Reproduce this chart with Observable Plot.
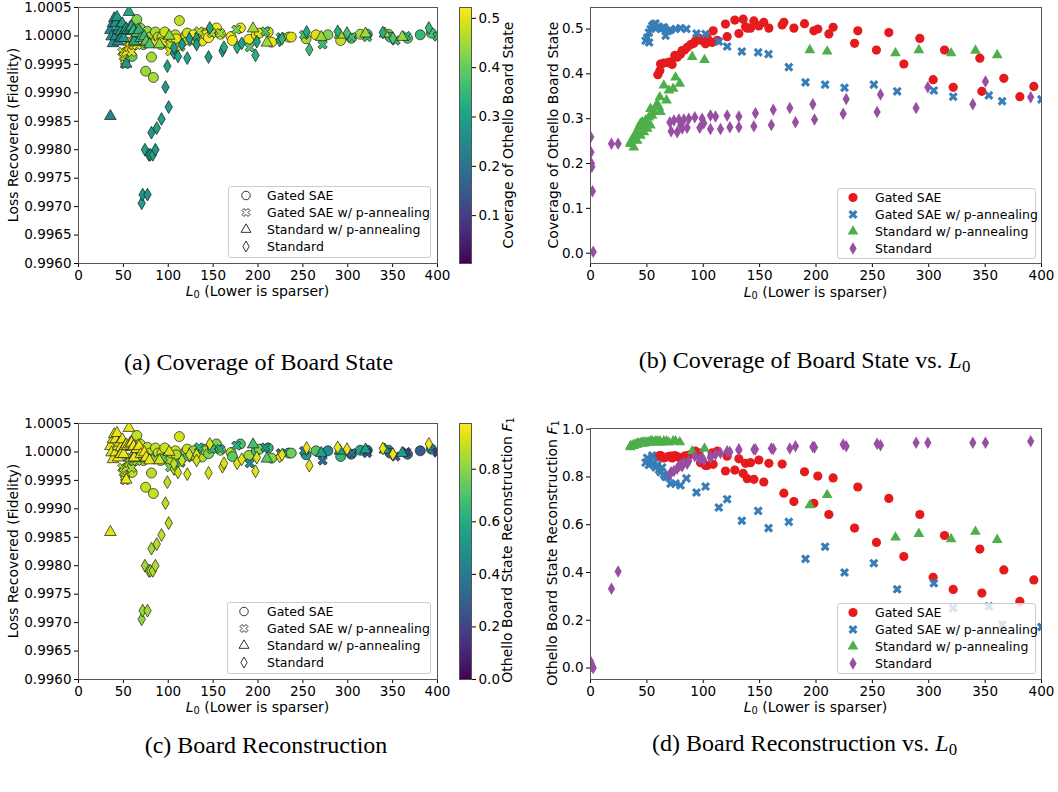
<!DOCTYPE html>
<html><head><meta charset="utf-8">
<script src="https://cdn.jsdelivr.net/npm/d3@7"></script>
<script src="https://cdn.jsdelivr.net/npm/@observablehq/plot@0.6"></script>
<style>
body{margin:0;background:#fff;}
#root{position:relative;width:1058px;height:792px;overflow:hidden;font-family:"DejaVu Sans";color:#000;}
.abs{position:absolute;}
.txt{position:absolute;white-space:nowrap;line-height:1;}
.legend{position:absolute;border:1px solid #ccc;border-radius:3px;background:rgba(255,255,255,0.8);box-sizing:border-box;}
</style></head>
<body><div id="root"></div>
<script>
// ---------------- DATA ----------------
const seriesNames = ["Gated SAE", "Gated SAE w/ p-annealing", "Standard w/ p-annealing", "Standard"];
const seriesColors = ["#e41a1c", "#377eb8", "#4daf4a", "#984ea3"];

// Gated SAE
const gatedL0 = [59.7,61.5,62.1,65,68.6,71,72.4,74.8,76.9,79.8,81.3,83.4,85.7,88.7,91.6,93.1,96.1,97.6,102,103.5,107.9,108.8,112.4,119.7,121.2,128,131.6,135.4,137.5,139,141.9,144.9,149.3,153.7,158.2,170,171.5,180.4,189.8,198.1,201.6,211.4,215.2,234.2,237.1,253.6,264.6,277.9,292.1,303.9,314,321.7,345.3,347.1,366.6,380.8,393.2];
const gatedCov = [0.398,0.407,0.422,0.424,0.425,0.427,0.421,0.441,0.437,0.444,0.452,0.453,0.459,0.465,0.468,0.474,0.480,0.475,0.467,0.481,0.470,0.496,0.475,0.511,0.483,0.520,0.490,0.522,0.505,0.502,0.502,0.518,0.507,0.515,0.502,0.509,0.515,0.502,0.512,0.496,0.500,0.489,0.504,0.468,0.496,0.453,0.492,0.422,0.479,0.387,0.453,0.370,0.435,0.361,0.390,0.349,0.372];
const gatedF1 = [0.885,0.89,0.89,0.88,0.885,0.887,0.88,0.89,0.885,0.88,0.875,0.887,0.89,0.894,0.90,0.908,0.901,0.86,0.848,0.848,0.901,0.853,0.908,0.825,0.887,0.829,0.876,0.815,0.857,0.793,0.860,0.790,0.871,0.779,0.857,0.854,0.732,0.697,0.822,0.690,0.804,0.643,0.796,0.586,0.758,0.526,0.710,0.467,0.643,0.380,0.555,0.329,0.498,0.314,0.411,0.279,0.369];
const gatedFid = [0.99964,1.00021,0.99993,1.00029,1.00014,0.99990,0.99985,0.99938,1.00008,0.99998,0.99963,0.99927,1.00007,0.99998,0.99985,0.99998,1.00007,0.99990,0.99985,0.99998,1.00002,0.99995,1.00027,1.00001,1.00005,1.00002,0.99990,0.99995,0.99991,1.00005,1.00002,0.99997,1.00008,1.00014,1.00003,0.99999,0.99992,1.00014,0.99994,1.00002,1.00005,1.00007,0.99989,0.99998,0.99998,0.99995,1.00002,1.00002,0.99992,0.99996,1.00003,1.00003,1.00003,0.99998,0.99996,1.00002,1.00005];

// Gated SAE w/ p-annealing
const gatedPL0 = [48.9,50.3,51.8,53.3,54.8,56.3,57.7,59.2,60.7,62.2,63.6,65.1,66.6,52.0,68.6,71,75.4,79.8,85.1,94,102,113.8,121.2,134.2,148.7,157.9,175.9,190.7,208.1,225.3,251.3,272,304.5,321.7,353.3,365.1,400];
const gatedPCov = [0.474,0.481,0.492,0.500,0.507,0.511,0.512,0.504,0.505,0.500,0.502,0.504,0.485,0.470,0.495,0.498,0.500,0.502,0.500,0.490,0.489,0.472,0.461,0.450,0.448,0.444,0.415,0.381,0.376,0.369,0.376,0.361,0.363,0.349,0.352,0.339,0.343];
const gatedPF1 = [0.86,0.88,0.85,0.87,0.89,0.86,0.84,0.85,0.83,0.82,0.84,0.81,0.80,0.87,0.80,0.772,0.773,0.765,0.794,0.735,0.760,0.672,0.707,0.617,0.658,0.586,0.612,0.457,0.508,0.400,0.439,0.330,0.355,0.251,0.259,0.182,0.172];
const gatedPFid = [0.99972,0.99964,0.99955,0.99972,0.99981,0.99981,0.99990,0.99972,0.99984,0.99984,0.99990,0.99984,0.99990,0.99950,0.99990,0.99993,0.99990,0.99990,0.99987,0.99990,0.99973,0.99981,0.99990,1.00008,1.00005,1.00005,1.00011,0.99980,1.00008,0.99998,1.00002,0.99985,0.99998,0.99998,0.99992,1.00000,0.99999];

// Standard w/ p-annealing
const stdPL0 = [35.5,35.5,36.9,38.4,38.4,39.9,41.4,41.4,42.9,44.3,44.3,45.8,47.3,47.3,48.8,50.3,51.7,53.2,53.2,54.7,56.2,57.7,59.1,60.6,61.5,62.1,65.0,67.4,69.5,73.3,75.4,79.2,90.2,101.1,194.5,209.9,270.5,291.2,319.8,341.4,360.7];
const stdPCov = [0.244,0.247,0.252,0.259,0.236,0.266,0.270,0.251,0.281,0.289,0.262,0.292,0.285,0.270,0.296,0.278,0.303,0.285,0.322,0.307,0.315,0.326,0.333,0.326,0.348,0.315,0.374,0.341,0.363,0.367,0.392,0.378,0.438,0.431,0.453,0.450,0.446,0.453,0.446,0.452,0.442];
const stdPF1 = [0.925,0.93,0.93,0.935,0.93,0.935,0.94,0.935,0.94,0.94,0.94,0.945,0.94,0.945,0.945,0.945,0.945,0.95,0.945,0.95,0.945,0.95,0.95,0.945,0.95,0.945,0.95,0.95,0.945,0.95,0.95,0.946,0.908,0.919,0.682,0.725,0.547,0.562,0.540,0.571,0.537];
const stdPFid = [0.99859,1.00010,0.99999,0.99987,1.00022,1.00031,1.00022,0.99999,1.00033,1.00010,0.99990,1.00016,1.00008,0.99996,1.00022,0.99996,1.00010,0.99951,1.00013,1.00010,1.00042,1.00013,1.00016,1.00008,1.00010,0.99990,1.00005,1.00010,0.99996,0.99999,0.99990,0.99985,0.99985,1.00000,1.00013,0.99988,0.99998,1.00002,1.00004,1.00004,0.99998];

// Standard (fidelity below the plotted range for the lowest L0 points)
const stdL0 = [0.2,0.4,0.8,1.2,1.8,2.4,18.6,24.5,70.4,71.5,74.0,76.9,78.4,80.0,81.3,82.8,85.7,87.2,92.5,96.9,99.0,100.5,106.4,106.4,110.9,115.3,121.2,123.6,131.6,131.6,144.9,146.3,160.4,162.1,176.8,181.8,197.2,198.7,224.1,226.8,254.2,257.2,288.8,299.2,339.1,350.3,390.4];
const stdCov = [0.259,0.225,0.200,0.193,0.138,0.003,0.244,0.244,0.292,0.272,0.296,0.270,0.298,0.285,0.278,0.298,0.280,0.300,0.303,0.280,0.300,0.290,0.307,0.277,0.305,0.277,0.307,0.281,0.305,0.281,0.283,0.312,0.286,0.320,0.324,0.292,0.332,0.298,0.311,0.344,0.315,0.354,0.324,0.370,0.332,0.383,0.348];
const stdF1 = [0.026,0.02,0.015,0.01,0.005,0.0,0.332,0.404,0.811,0.82,0.825,0.835,0.846,0.85,0.845,0.86,0.855,0.867,0.887,0.873,0.88,0.87,0.887,0.88,0.894,0.90,0.908,0.905,0.916,0.912,0.915,0.916,0.919,0.917,0.919,0.929,0.926,0.924,0.936,0.929,0.939,0.933,0.943,0.943,0.943,0.943,0.950];
const stdFid = [null,null,null,null,null,null,null,null,0.99706,0.99721,0.99800,0.99721,0.99791,0.99791,0.99830,0.99791,0.99800,0.99838,0.99854,0.99910,0.99947,0.99875,0.99970,0.99979,0.99964,0.99985,0.99961,0.99995,0.99995,0.99985,0.99963,1.00014,0.99974,0.99980,0.99980,0.99987,0.99966,0.99990,0.99992,0.99995,1.00007,0.99976,1.00008,1.00005,1.00006,0.99996,1.00014];

// Axes / ticks
const l0Ticks = [0,50,100,150,200,250,300,350,400];
const fidTicks = [0.9960,0.9965,0.9970,0.9975,0.9980,0.9985,0.9990,0.9995,1.0000,1.0005];
const covTicks = [0.0,0.1,0.2,0.3,0.4,0.5];
const f1Ticks = [0.0,0.2,0.4,0.6,0.8,1.0];
const covBarTicks = [0.1,0.2,0.3,0.4,0.5];
const f1BarTicks = [0.0,0.2,0.4,0.6,0.8];
const covColorDomain = [0.003, 0.522];
const f1ColorDomain = [0.0, 0.974];

// ---------------- build rows ----------------
const rows = [];
function addSeries(name, L0, cov, f1, fid) {
  L0.forEach((l, i) => rows.push({series: name, l0: l, cov: cov[i], f1: f1[i], fid: fid[i]}));
}
addSeries(seriesNames[0], gatedL0, gatedCov, gatedF1, gatedFid);
addSeries(seriesNames[1], gatedPL0, gatedPCov, gatedPF1, gatedPFid);
addSeries(seriesNames[2], stdPL0, stdPCov, stdPF1, stdPFid);
addSeries(seriesNames[3], stdL0, stdCov, stdF1, stdFid);

// filled "X" marker
const symbolX = {
  draw(context, size) {
    const r = Math.sqrt(size / Math.PI);
    const L = r * 1.25, w = r * 0.4;
    const pts = [[-w,-L],[w,-L],[w,-w],[L,-w],[L,w],[w,w],[w,L],[-w,L],[-w,w],[-L,w],[-L,-w],[-w,-w]];
    const c = Math.SQRT1_2;
    pts.forEach(([x, y], i) => {
      const X = (x - y) * c, Y = (x + y) * c;
      if (i === 0) context.moveTo(X, Y); else context.lineTo(X, Y);
    });
    context.closePath();
  }
};
const seriesSym = [d3.symbolCircle, symbolX, d3.symbolTriangle, d3.symbolDiamond];
const rFilled = [4.6, 3.9, 4.0, 3.8];   // panels b, d
const rEdged = [5.0, 4.0, 4.3, 3.9];    // panels a, c

const root = document.getElementById("root");
function place(node, left, top) {
  const d = document.createElement("div");
  d.className = "abs";
  d.style.left = left + "px"; d.style.top = top + "px";
  d.appendChild(node); root.appendChild(d);
}
function text(html, cx, cy, size, opts = {}) {
  const d = document.createElement("div");
  d.className = "txt";
  d.innerHTML = html;
  d.style.left = cx + "px"; d.style.top = cy + "px";
  d.style.fontSize = size + "px";
  d.style.fontFamily = opts.family || "DejaVu Sans";
  d.style.transform = "translate(-50%,-50%)" + (opts.rotate ? " rotate(-90deg)" : "");
  root.appendChild(d);
}
const baseStyle = {fontFamily: "DejaVu Sans", fontSize: "13.5px", color: "#000", background: "transparent", overflow: "visible"};

function scatterEdged(colorKey, colorDomain) {
  return Plot.plot({
    width: 445, height: 300, marginLeft: 78, marginRight: 8, marginTop: 7, marginBottom: 37,
    style: baseStyle,
    x: {domain: [0, 400], ticks: l0Ticks, tickSize: 4, tickPadding: 3, label: null},
    y: {domain: [0.9960, 1.0005], ticks: fidTicks, tickFormat: d3.format(".4f"), tickSize: 4, tickPadding: 3, label: null},
    color: {type: "linear", scheme: "viridis", domain: colorDomain},
    marks: [
      ...seriesNames.map((s, i) => Plot.dot(rows.filter(d => d.series === s && d.fid != null), {
        x: "l0", y: "fid", fill: colorKey, symbol: seriesSym[i], r: rEdged[i],
        stroke: "#1a1a1a", strokeWidth: 0.7, clip: true
      })),
      Plot.frame({stroke: "#555"})
    ]
  });
}
function scatterFilled(yKey, yDomain, yTicks, marginTop) {
  return Plot.plot({
    width: 530, height: 300, marginLeft: 70, marginRight: 9, marginTop, marginBottom: 37,
    style: baseStyle,
    x: {domain: [0, 400], ticks: l0Ticks, tickSize: 4, tickPadding: 3, label: null},
    y: {domain: yDomain, ticks: yTicks, tickFormat: d3.format(".1f"), tickSize: 4, tickPadding: 3, label: null},
    marks: [
      ...seriesNames.map((s, i) => Plot.dot(rows.filter(d => d.series === s), {
        x: "l0", y: yKey, fill: seriesColors[i], symbol: seriesSym[i], r: rFilled[i], clip: true
      })),
      Plot.frame({stroke: "#555"})
    ]
  });
}
function colorbar(domain, ticks) {
  return Plot.plot({
    width: 50, height: 300, marginLeft: 0, marginRight: 38, marginTop: 7, marginBottom: 37,
    style: baseStyle,
    x: {domain: [0, 1], axis: null},
    y: {domain: domain, axis: "right", ticks: ticks, tickFormat: d3.format(".1f"), tickSize: 4, tickPadding: 3, label: null},
    color: {type: "linear", scheme: "viridis", domain: domain},
    marks: [
      Plot.raster({x1: 0, x2: 1, y1: domain[0], y2: domain[1], width: 1, height: 256, fill: (x, y) => y, imageRendering: "pixelated"}),
      Plot.frame({stroke: "#555"})
    ]
  });
}
function legend(left, top, w, h, markerX, textX, filled) {
  const box = document.createElement("div");
  box.className = "legend";
  Object.assign(box.style, {left: left + "px", top: top + "px", width: w + "px", height: h + "px"});
  const ns = "http://www.w3.org/2000/svg";
  const svg = document.createElementNS(ns, "svg");
  svg.setAttribute("width", w); svg.setAttribute("height", h);
  Object.assign(svg.style, {position: "absolute", left: "-1px", top: "-1px", overflow: "visible"});
  const rowY = [9.5, 26.5, 43.5, 60.5];
  seriesNames.forEach((s, i) => {
    const r = filled ? rFilled[i] : rEdged[i] * 0.85;
    const p = document.createElementNS(ns, "path");
    p.setAttribute("d", d3.symbol(seriesSym[i], Math.PI * r * r)());
    p.setAttribute("transform", `translate(${markerX},${rowY[i]})`);
    if (filled) p.setAttribute("fill", seriesColors[i]);
    else { p.setAttribute("fill", "#fff"); p.setAttribute("stroke", "#000"); p.setAttribute("stroke-width", "0.8"); }
    svg.appendChild(p);
    const t = document.createElementNS(ns, "text");
    t.setAttribute("x", textX); t.setAttribute("y", rowY[i]);
    t.setAttribute("dy", "0.35em");
    t.setAttribute("font-family", "DejaVu Sans"); t.setAttribute("font-size", "12.5");
    t.textContent = s;
    svg.appendChild(t);
  });
  box.appendChild(svg);
  root.appendChild(box);
}

// ---------------- panels ----------------
place(scatterEdged("cov", covColorDomain), 0, 0);
place(colorbar(covColorDomain, covBarTicks), 459, 0);
place(scatterFilled("cov", [-0.023, 0.548], covTicks, 7), 520, 0);
place(scatterEdged("f1", f1ColorDomain), 0, 416);
place(colorbar(f1ColorDomain, f1BarTicks), 459, 416);
place(scatterFilled("f1", [-0.048, 1.003], f1Ticks, 12), 520, 416);

legend(228, 186, 203, 72, 18, 39, false);
legend(837, 188, 199, 71, 16, 38, true);
legend(227, 602, 204, 72, 17, 40, false);
legend(837, 603, 199, 71, 16, 38, true);

const l0Label = '<i>L</i><sub style="font-size:70%;vertical-align:-0.25em">0</sub> (Lower is sparser)';
text(l0Label, 257.5, 292, 14);
text(l0Label, 815.5, 293, 14);
text(l0Label, 257.5, 708, 14);
text(l0Label, 815.5, 708, 14);
text("Loss Recovered (Fidelity)", 13, 135, 14, {rotate: true});
text("Loss Recovered (Fidelity)", 13, 550.5, 14, {rotate: true});
text("Coverage of Othello Board State", 553, 135, 14, {rotate: true});
text('Othello Board State Reconstruction <i>F</i><sub style="font-size:70%;vertical-align:-0.25em">1</sub>', 553, 553, 14, {rotate: true});
text("Coverage of Othello Board State", 508, 135, 14, {rotate: true});
text('Othello Board State Reconstruction <i>F</i><sub style="font-size:70%;vertical-align:-0.25em">1</sub>', 508, 550, 14, {rotate: true});

const serif = {family: "Liberation Serif"};
text("(a) Coverage of Board State", 258.5, 362, 24, serif);
text('(b) Coverage of Board State vs. <i>L</i><sub style="font-size:70%;vertical-align:-0.2em">0</sub>', 804.5, 362, 24, serif);
text("(c) Board Reconstruction", 266, 745, 24, serif);
text('(d) Board Reconstruction vs. <i>L</i><sub style="font-size:70%;vertical-align:-0.2em">0</sub>', 804.5, 745, 24, serif);
</script></body></html>
